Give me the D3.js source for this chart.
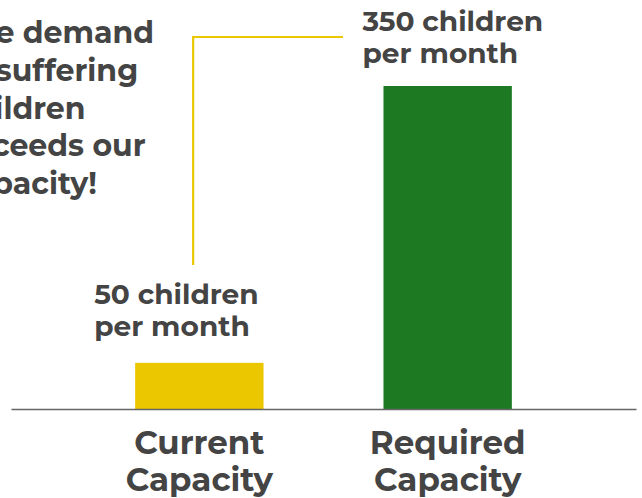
<!DOCTYPE html>
<html>
<head>
<meta charset="utf-8">
<script src="https://cdn.jsdelivr.net/npm/d3@7"></script>
<style>
  body { margin: 0; background: #fff; }
  svg text { font-family: Montserrat, Inter, sans-serif; font-weight: 700; fill: #444; }
</style>
</head>
<body>
<div id="chart"></div>
<script>
// data
var categories = ["Current Capacity", "Required Capacity"];
var values = [50, 350];
var barColors = ["#ebc700", "#1e7a22"];
var categoryLines = [["Current", "Capacity"], ["Required", "Capacity"]];
var valueLabels = [["50 children", "per month"], ["350 children", "per month"]];
var noteLines = ["The demand", "of suffering", "children", "exceeds our", "capacity!"];

var width = 642,
    height = 498;

var svg = d3.select("#chart").append("svg")
    .attr("width", width)
    .attr("height", height);

//scales
var x = d3.scaleBand()
    .domain(categories)
    .range([11, 636])
    .paddingInner(0.483)
    .paddingOuter(0.5);

var y = d3.scaleLinear()
    .domain([0, 350])
    .range([409, 86]);

//bars
svg.selectAll(".bar")
    .data(values)
    .enter().append("rect")
    .attr("class", "bar")
    .attr("x", function(d, i) { return x(categories[i]); })
    .attr("y", function(d) { return y(d); })
    .attr("width", x.bandwidth())
    .attr("height", function(d) { return y(0) - y(d); })
    .style("fill", function(d, i) { return barColors[i]; });

//baseline axis, no ticks
var axis = svg.append("g")
    .attr("transform", "translate(0," + y(0) + ")")
    .call(d3.axisBottom(x).tickSize(0).tickFormat(""));
axis.select(".domain")
    .attr("stroke", "#666")
    .attr("stroke-width", 1.6);

//category labels under the axis
svg.selectAll(".cat")
    .data(categories)
    .enter().append("text")
    .attr("class", "cat")
    .attr("text-anchor", "middle")
    .style("font-size", "32.5px")
    .each(function(d, i) {
        var t = d3.select(this);
        categoryLines[i].forEach(function(line, j) {
            t.append("tspan")
             .attr("x", x(d) + x.bandwidth() / 2)
             .attr("y", y(0) + 45 + j * 37)
             .text(line);
        });
    });

//value labels above the bars
var labelOffset = [-41, -21];
var labelRaise = [59, 55];
svg.selectAll(".val")
    .data(values)
    .enter().append("text")
    .attr("class", "val")
    .style("font-size", "28px")
    .each(function(d, i) {
        var t = d3.select(this);
        valueLabels[i].forEach(function(line, j) {
            t.append("tspan")
             .attr("x", x(categories[i]) + labelOffset[i])
             .attr("y", y(d) - labelRaise[i] + j * 32)
             .text(line);
        });
    });

//connector from the small bar label up to the big one
var lx = x(categories[0]) + 58;
svg.append("path")
    .attr("d", "M" + lx + ",265V37H343")
    .attr("fill", "none")
    .attr("stroke", barColors[0])
    .attr("stroke-width", 2.2);

//note at the top left (runs off the edge)
var note = svg.append("text")
    .style("font-size", "30px");
noteLines.forEach(function(line, j) {
    note.append("tspan")
        .attr("x", -44)
        .attr("y", 43 + j * 37.8)
        .text(line);
});
</script>
</body>
</html>
